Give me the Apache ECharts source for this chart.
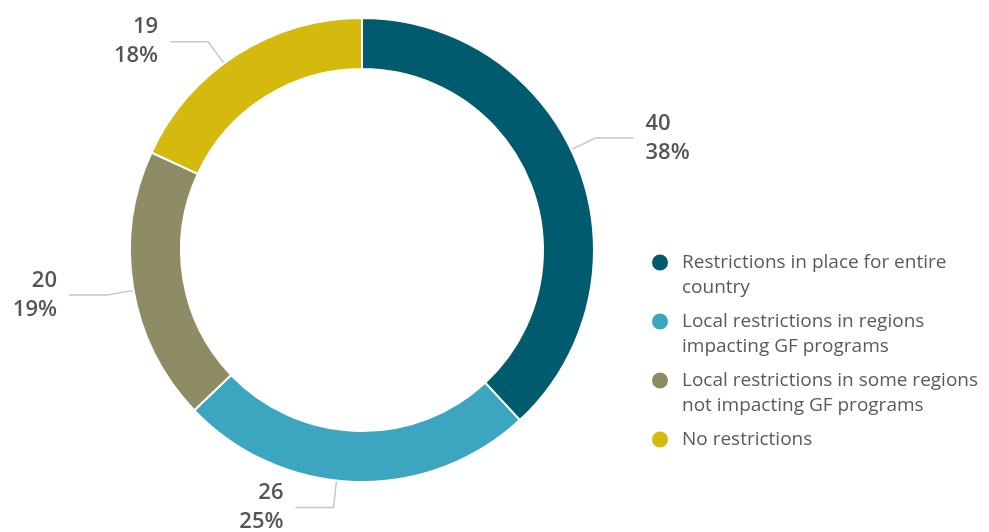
<!DOCTYPE html>
<html>
<head>
<meta charset="utf-8">
<script src="https://cdn.jsdelivr.net/npm/echarts@6/dist/echarts.min.js"></script>
<style>
html,body{margin:0;padding:0;background:#fff;}
#chart{width:989px;height:532px;}
</style>
</head>
<body>
<div id="chart"></div>
<script>
const categories = [
  'Restrictions in place for entire\ncountry',
  'Local restrictions in regions\nimpacting GF programs',
  'Local restrictions in some regions\nnot impacting GF programs',
  'No restrictions'
];
const values = [40, 26, 20, 19];
const colors = ['#005b6e', '#3ca5bf', '#8e8c64', '#d4ba0c'];
// small angular nudges (degrees) of the label leader lines, as in the reference
const labelAngleNudge = [-4.2, 4.6, -0.6, -3.9];

const CENTER = [362, 250];
const RADIUS = [181, 232];
const LEN1 = 27, LEN2 = 38, LABEL_DIST = 12;
const LINE_H = 25;

const chart = echarts.init(document.getElementById('chart'));
const legendData = categories.map(function (name) {
  const n = name.split('\n').length;
  const pad = n === 1 ? [LINE_H, 0, LINE_H, 8] : [(n - 1) * LINE_H, 0, 0, 8];
  return { name: name, textStyle: { padding: pad } };
});

chart.setOption({
  animation: false,
  color: colors,
  textStyle: { fontFamily: 'Open Sans' },
  legend: {
    orient: 'vertical',
    left: 650,
    top: 225,
    padding: 0,
    itemGap: -16,
    icon: 'circle',
    itemWidth: 18,
    itemHeight: 18,
    selectedMode: false,
    data: legendData,
    formatter: function (name) {
      return name.split('\n').map(function (s) { return '{t|' + s + '}'; }).join('\n');
    },
    textStyle: {
      fontSize: 19,
      lineHeight: LINE_H,
      color: '#5a5a5a',
      fontFamily: 'Open Sans',
      rich: {
        t: { fontSize: 19, lineHeight: LINE_H, color: '#5a5a5a', fontFamily: 'Open Sans' }
      }
    }
  },
  series: [{
    type: 'pie',
    center: CENTER,
    radius: RADIUS,
    startAngle: 90,
    clockwise: true,
    percentPrecision: 0,
    avoidLabelOverlap: false,
    itemStyle: { borderColor: '#fff', borderWidth: 2 },
    label: {
      show: true,
      position: 'outside',
      formatter: '{c}\n{d}%',
      fontSize: 22,
      lineHeight: 29,
      color: '#555',
      fontWeight: 600,
      fontFamily: 'Open Sans',
      distanceToLabelLine: LABEL_DIST
    },
    labelLine: {
      show: true,
      length: LEN1,
      length2: LEN2,
      lineStyle: { color: '#c8c8c8', width: 1.5 }
    },
    labelLayout: function (params) {
      const pts = params.labelLinePoints;
      if (!pts) return {};
      const p0 = pts[0];
      const ang = Math.atan2(p0[0] - CENTER[0], -(p0[1] - CENTER[1])) +
        (labelAngleNudge[params.dataIndex] || 0) * Math.PI / 180;
      const sx = Math.sin(ang), cy = -Math.cos(ang);
      const R = RADIUS[1];
      const a = [CENTER[0] + R * sx, CENTER[1] + R * cy];
      const b = [CENTER[0] + (R + LEN1) * sx, CENTER[1] + (R + LEN1) * cy];
      const side = sx < 0 ? -1 : 1;
      const c = [b[0] + side * LEN2, b[1]];
      return {
        x: c[0] + side * LABEL_DIST,
        y: c[1],
        align: side < 0 ? 'right' : 'left',
        verticalAlign: 'middle',
        labelLinePoints: [a, b, c]
      };
    },
    emphasis: { disabled: true },
    data: categories.map(function (name, i) {
      return { name: name, value: values[i] };
    })
  }]
});
</script>
</body>
</html>
